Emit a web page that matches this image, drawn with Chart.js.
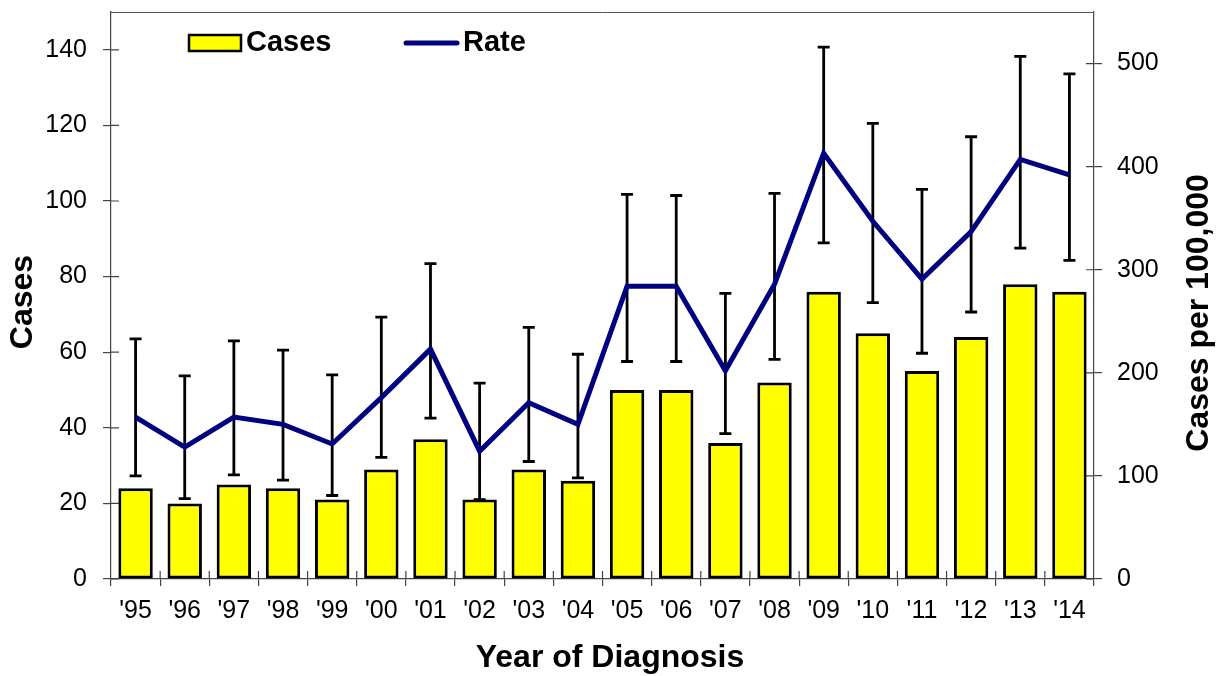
<!DOCTYPE html>
<html>
<head>
<meta charset="utf-8">
<title>Cases and Rate by Year of Diagnosis</title>
<script src="https://cdn.jsdelivr.net/npm/chart.js@4.4.0/dist/chart.umd.min.js"></script>
<style>
    html, body { margin: 0; padding: 0; background: #fff; }
    #wrap { position: relative; width: 1222px; height: 676px; }
</style>
</head>
<body>
<div id="wrap"><canvas id="chart"></canvas></div>
<script>
// 数据
const years = ["'95", "'96", "'97", "'98", "'99", "'00", "'01", "'02", "'03", "'04",
               "'05", "'06", "'07", "'08", "'09", "'10", "'11", "'12", "'13", "'14"];
const cases = [24, 20, 25, 24, 21, 29, 37, 21, 29, 26, 50, 50, 36, 52, 76, 65, 55, 64, 78, 76];
const rate = [157, 128, 157, 150, 131, 176, 223, 124, 171, 150, 284, 284, 202, 286, 413, 347, 291, 337, 407, 392];
const rateLow = [100, 78, 101, 96, 81, 118, 156, 77, 114, 98, 211, 211, 141, 213, 326, 268, 219, 259, 321, 309];
const rateHigh = [233, 197, 231, 222, 198, 254, 306, 190, 244, 218, 373, 372, 277, 374, 516, 442, 378, 429, 507, 490];

// 坐标轴标题
const xTitle = 'Year of Diagnosis';
const yTitle = 'Cases';
const y1Title = 'Cases per 100,000';

const FONT = "'Liberation Sans', Arial, sans-serif";
const AXIS_COLOR = '#444';

Chart.defaults.font.family = FONT;
Chart.defaults.color = '#000';

// 误差线、内侧刻度、图例和标题
const extras = {
    id: 'extras',
    beforeDatasetsDraw(chart) {
        const ctx = chart.ctx;
        const area = chart.chartArea;
        const x = chart.scales.x, y = chart.scales.y, y1 = chart.scales.y1;
        ctx.save();
        ctx.strokeStyle = AXIS_COLOR;
        ctx.lineWidth = 1.2;
        ctx.beginPath();
        y.ticks.forEach(t => {
            const py = y.getPixelForValue(t.value);
            ctx.moveTo(area.left, py);
            ctx.lineTo(area.left + 8, py);
        });
        y1.ticks.forEach(t => {
            const py = y1.getPixelForValue(t.value);
            ctx.moveTo(area.right - 8, py);
            ctx.lineTo(area.right, py);
        });
        for (let i = 1; i < years.length; i++) {
            const px = x.getPixelForValue(i - 0.5);
            ctx.moveTo(px, area.bottom);
            ctx.lineTo(px, area.bottom - 8);
        }
        ctx.stroke();
        // 顶部边框
        ctx.strokeStyle = '#555';
        ctx.lineWidth = 1;
        ctx.beginPath();
        ctx.moveTo(area.left, area.top + 0.5);
        ctx.lineTo(area.right, area.top + 0.5);
        ctx.stroke();
        ctx.restore();
    },
    afterDatasetDraw(chart, args) {
        if (args.index !== 0) return;   // 柱子画完后画误差线
        const ctx = chart.ctx;
        const x = chart.scales.x, y1 = chart.scales.y1;
        ctx.save();
        ctx.strokeStyle = '#000';
        ctx.lineWidth = 2.8;
        ctx.beginPath();
        rate.forEach((_, i) => {
            const px = x.getPixelForValue(i);
            const top = y1.getPixelForValue(rateHigh[i]);
            const bot = y1.getPixelForValue(rateLow[i]);
            ctx.moveTo(px, top);
            ctx.lineTo(px, bot);
            ctx.moveTo(px - 6, top);
            ctx.lineTo(px + 6, top);
            ctx.moveTo(px - 6, bot);
            ctx.lineTo(px + 6, bot);
        });
        ctx.stroke();
        ctx.restore();
    },
    afterDraw(chart) {
        const ctx = chart.ctx;
        const ds = chart.data.datasets;
        ctx.save();
        // 图例
        ctx.fillStyle = ds[0].backgroundColor;
        ctx.strokeStyle = '#000';
        ctx.lineWidth = 2.5;
        ctx.fillRect(189, 35, 52, 16);
        ctx.strokeRect(189, 35, 52, 16);
        ctx.strokeStyle = ds[1].borderColor;
        ctx.lineWidth = 5;
        ctx.lineCap = 'round';
        ctx.beginPath();
        ctx.moveTo(406, 43);
        ctx.lineTo(457, 43);
        ctx.stroke();
        ctx.fillStyle = '#000';
        ctx.font = 'bold 29px ' + FONT;
        ctx.textBaseline = 'middle';
        ctx.textAlign = 'left';
        ctx.fillText(ds[0].label, 246, 43);
        ctx.fillText(ds[1].label, 463, 43);

        // 标题
        ctx.font = 'bold 32px ' + FONT;
        ctx.textAlign = 'center';
        ctx.fillText(xTitle, 610, 658);

        ctx.save();
        ctx.translate(23, 302);
        ctx.rotate(-Math.PI / 2);
        ctx.fillText(yTitle, 0, 0);
        ctx.restore();

        ctx.translate(1199, 313);
        ctx.rotate(-Math.PI / 2);
        ctx.fillText(y1Title, 0, 0);
        ctx.restore();
    }
};

const ctx = document.getElementById('chart').getContext('2d');
new Chart(ctx, {
    type: 'bar',
    data: {
        labels: years,
        datasets: [{
            type: 'bar',
            label: 'Cases',
            data: cases,
            yAxisID: 'y',
            backgroundColor: '#FFFF00',
            borderColor: '#000',
            borderWidth: 3,
            borderSkipped: false,
            barPercentage: 0.7,
            categoryPercentage: 1.0,
            order: 1
        }, {
            type: 'line',
            label: 'Rate',
            data: rate,
            yAxisID: 'y1',
            borderColor: '#000080',
            borderWidth: 5,
            pointRadius: 0,
            tension: 0,
            fill: false,
            order: 0
        }]
    },
    options: {
        responsive: true,
        maintainAspectRatio: false,
        animation: false,
        layout: { padding: { top: 12, left: 0, right: 0, bottom: 0 } },
        plugins: {
            legend: { display: false },
            tooltip: { enabled: false }
        },
        scales: {
            x: {
                grid: { display: true, drawOnChartArea: false, tickLength: 7, color: AXIS_COLOR, lineWidth: 1.2 },
                border: { display: true, color: AXIS_COLOR, width: 1.2 },
                ticks: { font: { size: 25 }, padding: 10, maxRotation: 0, autoSkip: false },
                afterFit: s => { s.height = 97; s.paddingLeft = 0; s.paddingRight = 0; }
            },
            y: {
                position: 'left',
                min: 0,
                max: 150,
                grid: { display: true, drawOnChartArea: false, tickLength: 8, color: AXIS_COLOR, lineWidth: 1.2 },
                border: { display: true, color: AXIS_COLOR, width: 1.2 },
                ticks: { stepSize: 20, includeBounds: false, font: { size: 25 }, padding: 16 },
                afterFit: s => { s.width = 111; s.paddingTop = 0; s.paddingBottom = 0; }
            },
            y1: {
                position: 'right',
                min: 0,
                max: 550,
                grid: { display: true, drawOnChartArea: false, tickLength: 8, color: AXIS_COLOR, lineWidth: 1.2 },
                border: { display: true, color: AXIS_COLOR, width: 1.2 },
                ticks: { stepSize: 100, includeBounds: false, font: { size: 25 }, padding: 15 },
                afterFit: s => { s.width = 128; s.paddingTop = 0; s.paddingBottom = 0; }
            }
        }
    },
    plugins: [extras]
});
</script>
</body>
</html>
